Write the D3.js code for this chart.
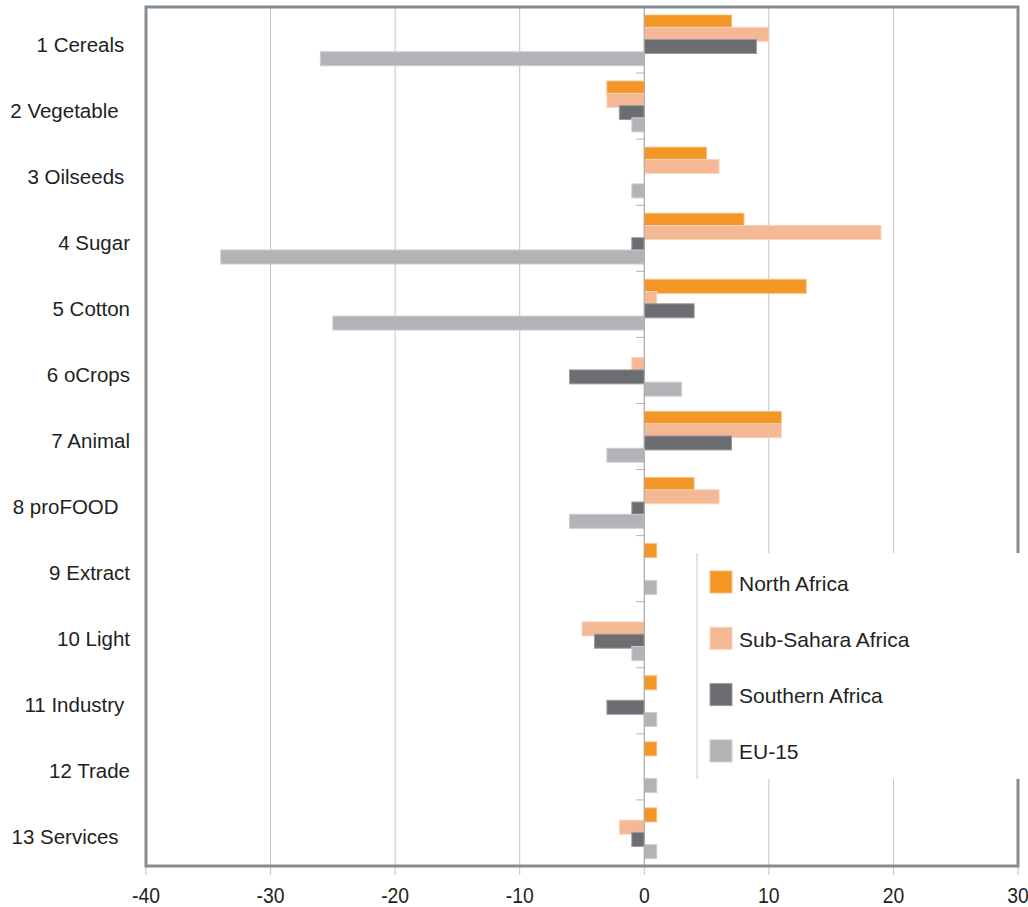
<!DOCTYPE html>
<html>
<head>
<meta charset="utf-8">
<script src="https://cdn.jsdelivr.net/npm/d3@7"></script>
<style>
  html, body { margin: 0; padding: 0; background: #fff; }
  svg { display: block; font-family: "Liberation Sans", Arial, sans-serif; }
</style>
</head>
<body>
<svg id="chart" width="1028" height="907"></svg>
<script>
// Sectors (trailing spaces keep the original label spacing)
const categories = [
  "1 Cereals ", "2 Vegetable  ", "3 Oilseeds ", "4 Sugar", "5 Cotton",
  "6 oCrops", "7 Animal", "8 proFOOD  ", "9 Extract", "10 Light",
  "11 Industry ", "12 Trade", "13 Services  "
];

// Regions, in legend order
const seriesNames = ["North Africa", "Sub-Sahara Africa", "Southern Africa", "EU-15"];
const seriesColors = ["#F39626", "#F4B894", "#6C6D71", "#B2B3B6"];
const seriesStrokes = ["#F8BE80", "#F8D3BC", "#9A9B9E", "#CDCED0"];

// Percentage change per sector
const northAfrica    = [7, -3, 5, 8, 13, 0, 11, 4, 1, 0, 1, 1, 1];
const subSahara      = [10, -3, 6, 19, 1, -1, 11, 6, 0, -5, 0, 0, -2];
const southernAfrica = [9, -2, 0, -1, 4, -6, 7, -1, 0, -4, -3, 0, -1];
const eu15           = [-26, -1, -1, -34, -25, 3, -3, -6, 1, -1, 1, 1, 1];

const xTicks = [-40, -30, -20, -10, 0, 10, 20, 30];

const seriesValues = [northAfrica, subSahara, southernAfrica, eu15];

const svg = d3.select("#chart");
const plot = { left: 146, right: 1018, top: 7, bottom: 866 };

const x = d3.scaleLinear().domain([-40, 30]).range([plot.left, plot.right]);
const y = d3.scaleBand().domain(categories).range([plot.top, plot.bottom]);
const sub = d3.scaleBand().domain(seriesNames).range([8, 57]);
const barH = 14;

// Vertical gridlines with small ticks below the frame
svg.append("g")
  .selectAll("line")
  .data(xTicks)
  .join("line")
  .attr("x1", d => x(d)).attr("x2", d => x(d))
  .attr("y1", plot.top).attr("y2", plot.bottom + 9)
  .attr("stroke", "#C4C4C4").attr("stroke-width", 1);

// Bars
const rows = [];
categories.forEach((c, i) => {
  seriesNames.forEach((s, j) => {
    rows.push({ cat: c, series: s, j: j, value: seriesValues[j][i] });
  });
});

svg.append("g")
  .selectAll("rect")
  .data(rows.filter(d => d.value !== 0))
  .join("rect")
  .attr("x", d => Math.min(x(0), x(d.value)))
  .attr("width", d => Math.abs(x(d.value) - x(0)))
  .attr("y", d => y(d.cat) + sub(d.series))
  .attr("height", barH)
  .attr("fill", d => seriesColors[d.j])
  .attr("stroke", d => seriesStrokes[d.j])
  .attr("stroke-width", 1);

// Category axis at zero with ticks between sectors
const zeroX = x(0);
svg.append("line")
  .attr("x1", zeroX).attr("x2", zeroX)
  .attr("y1", plot.top).attr("y2", plot.bottom)
  .attr("stroke", "#A9A9A9").attr("stroke-width", 1);

svg.append("g")
  .selectAll("line")
  .data(categories.slice(1))
  .join("line")
  .attr("x1", zeroX - 8).attr("x2", zeroX)
  .attr("y1", d => y(d)).attr("y2", d => y(d))
  .attr("stroke", "#B0B0B0").attr("stroke-width", 1);

// Category labels
svg.append("g")
  .selectAll("text")
  .data(categories)
  .join("text")
  .attr("x", 130)
  .attr("y", d => y(d) + y.bandwidth() / 2 + 4)
  .attr("text-anchor", "end")
  .attr("dominant-baseline", "central")
  .attr("xml:space", "preserve")
  .style("white-space", "pre")
  .attr("font-size", 20.5)
  .attr("fill", "#231F20")
  .text(d => d);

// Value axis labels
svg.append("g")
  .selectAll("text")
  .data(xTicks)
  .join("text")
  .attr("transform", d => `translate(${x(d)},895) scale(0.88,1)`)
  .attr("text-anchor", "middle")
  .attr("dominant-baseline", "central")
  .attr("font-size", 22)
  .attr("fill", "#231F20")
  .text(d => d);

// Plot frame
svg.append("rect")
  .attr("x", plot.left).attr("y", plot.top)
  .attr("width", plot.right - plot.left).attr("height", plot.bottom - plot.top)
  .attr("fill", "none")
  .attr("stroke", "#858D94").attr("stroke-width", 3);

// Legend
const legend = svg.append("g").attr("transform", "translate(697,553)");
legend.append("rect")
  .attr("x", 0).attr("y", 0).attr("width", 331).attr("height", 226)
  .attr("fill", "#fff");
legend.append("line")
  .attr("x1", 0).attr("x2", 0).attr("y1", 0).attr("y2", 226)
  .attr("stroke", "#C8C8C8").attr("stroke-width", 1);

const item = legend.selectAll("g.item")
  .data(seriesNames)
  .join("g")
  .attr("class", "item")
  .attr("transform", (d, i) => `translate(13,${18 + i * 56.3})`);
item.append("rect")
  .attr("width", 22).attr("height", 22)
  .attr("fill", (d, i) => seriesColors[i])
  .attr("stroke", (d, i) => seriesStrokes[i]).attr("stroke-width", 1);
item.append("text")
  .attr("x", 29).attr("y", 12)
  .attr("dominant-baseline", "central")
  .attr("font-size", 21)
  .attr("fill", "#231F20")
  .text(d => d);
</script>
</body>
</html>
